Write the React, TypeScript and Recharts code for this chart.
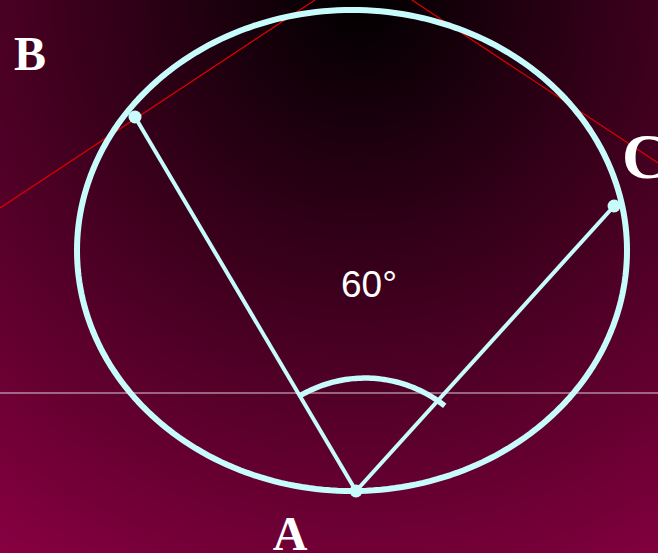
import React from 'react';
import { ComposedChart, Scatter, XAxis, YAxis } from 'recharts';

// Data space: unit circle centred at the origin
const X_DOMAIN: [number, number] = [-1.28, 1.1127];
const Y_DOMAIN: [number, number] = [-1.2578, 1.0416];

const circleCenter = { x: 0, y: 0 };
const circleRadius = 1;

const pointA = { x: 0.0146, y: -1.0 };
const pointB = { x: -0.789, y: 0.555 };
const pointC = { x: 0.953, y: 0.185 };

const horizontalY = -0.5925;

const redLine1 = [
  { x: -1.28, y: 0.177 },
  { x: -0.1345, y: 1.0416 },
];
const redLine2 = [
  { x: 0.218, y: 1.0416 },
  { x: 1.1127, y: 0.364 },
];

const arcCenter = { x: 0.0473, y: -1.0624 };
const arcRadius = { x: 0.4655, y: 0.532 };
const arcStartDeg = 120.7;
const arcEndDeg = 51.5;

const labelPoints = [
  { x: -1.171, y: 0.751, label: 'B' },
  { x: 0.982, y: 0.303, label: 'C' },
  { x: -0.2255, y: -1.2453, label: 'A' },
  { x: 0.0618, y: -0.193, label: '60°' },
];

// geometry helpers (shapes built from centre/radius above)
const circlePoints = Array.from({ length: 241 }, (_, i) => {
  const t = (i / 240) * Math.PI * 2;
  return { x: circleCenter.x + circleRadius * Math.cos(t), y: circleCenter.y + circleRadius * Math.sin(t) };
});
const arcPoints = Array.from({ length: 61 }, (_, i) => {
  const deg = arcStartDeg + ((arcEndDeg - arcStartDeg) * i) / 60;
  const t = (deg * Math.PI) / 180;
  return { x: arcCenter.x + arcRadius.x * Math.cos(t), y: arcCenter.y + arcRadius.y * Math.sin(t) };
});
const horizontalLine = [
  { x: X_DOMAIN[0], y: horizontalY },
  { x: X_DOMAIN[1], y: horizontalY },
];
const chordAB = [pointA, pointB];
const chordAC = [pointA, pointC];
const dots = [pointA, pointB, pointC];

const CYAN = '#c8fcfc';
const noShape = () => <g />;

const dotShape = (p: any) => <circle cx={p.cx} cy={p.cy} r={6.5} fill={CYAN} />;

const labelShape = (p: any) => {
  const lab = p.payload.label;
  if (lab === '60°') {
    return (
      <text x={p.cx} y={p.cy} textAnchor="middle" fill="#ffffff" fontSize={37}
        fontFamily="'Liberation Sans', Arial, sans-serif">{lab}</text>
    );
  }
  const size = lab === 'C' ? 64 : 48;
  const anchor = lab === 'C' ? 'start' : 'middle';
  return (
    <text x={p.cx} y={p.cy} textAnchor={anchor} fill="#ffffff" fontSize={size} fontWeight="bold"
      fontFamily="'Liberation Serif', 'Times New Roman', serif">{lab}</text>
  );
};

export default function App() {
  return (
    <div
      style={{
        position: 'absolute',
        left: 0,
        top: 0,
        width: 658,
        height: 553,
        overflow: 'hidden',
        background: 'radial-gradient(circle 680px at 360px 0px, #000000 0%, #8c0043 100%)',
      }}
    >
      <ComposedChart width={658} height={553} margin={{ top: 0, right: 0, bottom: 0, left: 0 }}>
        <XAxis type="number" dataKey="x" domain={X_DOMAIN} hide allowDataOverflow />
        <YAxis type="number" dataKey="y" domain={Y_DOMAIN} hide allowDataOverflow />
        <Scatter data={horizontalLine} line={{ stroke: 'rgba(255,255,255,0.4)', strokeWidth: 2 }} shape={noShape} isAnimationActive={false} />
        <Scatter data={redLine1} line={{ stroke: '#e00000', strokeWidth: 1.2 }} shape={noShape} isAnimationActive={false} />
        <Scatter data={redLine2} line={{ stroke: '#e00000', strokeWidth: 1.2 }} shape={noShape} isAnimationActive={false} />
        <Scatter data={circlePoints} line={{ stroke: CYAN, strokeWidth: 6, strokeLinejoin: 'round' }} shape={noShape} isAnimationActive={false} />
        <Scatter data={chordAB} line={{ stroke: CYAN, strokeWidth: 4 }} shape={noShape} isAnimationActive={false} />
        <Scatter data={chordAC} line={{ stroke: CYAN, strokeWidth: 4 }} shape={noShape} isAnimationActive={false} />
        <Scatter data={arcPoints} line={{ stroke: CYAN, strokeWidth: 5.5, strokeLinejoin: 'round' }} shape={noShape} isAnimationActive={false} />
        <Scatter data={dots} shape={dotShape} isAnimationActive={false} />
        <Scatter data={labelPoints} shape={labelShape} isAnimationActive={false} />
      </ComposedChart>
    </div>
  );
}
